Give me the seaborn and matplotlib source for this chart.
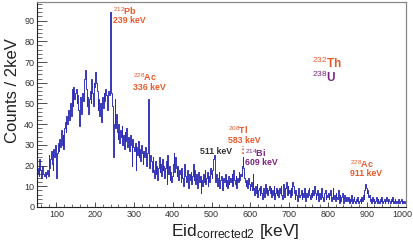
import numpy as np
import pandas as pd
import matplotlib
matplotlib.use("Agg")
import matplotlib.pyplot as plt
import matplotlib.transforms as mtransforms
import seaborn as sns

# counts per 2 keV bin (50 - 1000 keV)
counts_050 = [16, 19, 15, 23, 18, 14, 17, 20, 16, 15, 17, 14, 16, 18, 15, 25, 19, 23, 27, 21, 18, 28, 24, 30, 22]
counts_100 = [14, 26, 31, 27, 33, 29, 37, 30, 35, 28, 38, 41, 36, 44, 40, 47, 42, 45, 50, 44, 57, 49, 58, 52, 55]
counts_150 = [57, 50, 54, 47, 39, 48, 53, 45, 55, 51, 58, 62, 66, 57, 49, 53, 45, 52, 56, 50, 62, 55, 49, 60, 58]
counts_200 = [65, 60, 56, 47, 52, 44, 50, 46, 41, 53, 48, 55, 51, 57, 54, 47, 50, 56, 54, 94, 92, 55, 49, 24, 40]
counts_250 = [52, 38, 45, 36, 33, 40, 31, 37, 34, 39, 30, 35, 28, 36, 32, 38, 29, 34, 31, 27, 35, 30, 20, 33, 29]
counts_300 = [27, 31, 18, 29, 25, 32, 24, 28, 22, 30, 26, 21, 27, 24, 29, 23, 20, 26, 52, 28, 19, 25, 22, 17, 24]
counts_350 = [18, 14, 22, 16, 20, 13, 19, 24, 17, 21, 15, 23, 18, 20, 14, 19, 22, 11, 25, 16, 20, 13, 17, 12, 15]
counts_400 = [21, 26, 17, 24, 19, 15, 20, 13, 18, 16, 12, 19, 14, 10, 17, 21, 15, 12, 18, 14, 9, 16, 13, 17, 11]
counts_450 = [15, 21, 13, 18, 11, 16, 9, 14, 17, 12, 15, 7, 13, 10, 16, 12, 18, 11, 14, 17, 10, 15, 12, 19, 16]
counts_500 = [14, 18, 23, 25, 20, 12, 16, 10, 14, 17, 9, 13, 15, 11, 8, 14, 12, 16, 10, 13, 9, 15, 11, 12, 14]
counts_550 = [12, 16, 10, 18, 13, 11, 15, 9, 14, 12, 17, 13, 16, 15, 20, 24, 19, 14, 12, 10, 13, 9, 14, 11, 8]
counts_600 = [10, 12, 8, 16, 9, 6, 10, 7, 11, 5, 8, 9, 6, 10, 7, 4, 9, 8, 5, 11, 7, 9, 6, 8, 10]
counts_650 = [7, 9, 5, 8, 6, 10, 4, 7, 9, 6, 8, 5, 9, 7, 10, 6, 4, 11, 8, 5, 9, 12, 6, 10, 7]
counts_700 = [8, 5, 9, 6, 12, 10, 7, 4, 8, 6, 3, 7, 9, 5, 6, 8, 4, 7, 5, 9, 6, 3, 7, 5, 8]
counts_750 = [9, 6, 4, 7, 5, 8, 6, 10, 7, 4, 6, 8, 3, 5, 7, 4, 9, 6, 5, 3, 7, 8, 4, 6, 5]
counts_800 = [7, 4, 6, 8, 3, 5, 9, 4, 6, 3, 7, 5, 4, 8, 2, 6, 3, 5, 7, 4, 2, 6, 3, 5, 4]
counts_850 = [3, 5, 2, 4, 3, 6, 2, 4, 5, 3, 2, 4, 3, 5, 2, 3, 4, 2, 5, 3, 6, 4, 8, 11, 9]
counts_900 = [7, 8, 5, 6, 3, 4, 2, 5, 3, 4, 2, 3, 5, 2, 4, 3, 2, 4, 3, 5, 2, 3, 4, 2, 3]
counts_950 = [5, 3, 2, 4, 3, 2, 4, 3, 5, 2, 3, 4, 2, 3, 2, 4, 3, 2, 3, 4, 2, 3, 2, 3, 2]

counts = (counts_050 + counts_100 + counts_150 + counts_200 + counts_250 + counts_300
          + counts_350 + counts_400 + counts_450 + counts_500 + counts_550 + counts_600
          + counts_650 + counts_700 + counts_750 + counts_800 + counts_850 + counts_900
          + counts_950)

e_min, e_max, bin_w = 50, 1000, 2
centers = np.arange(e_min, e_max, bin_w) + bin_w / 2
df = pd.DataFrame({"energy": centers, "counts": counts})

# peak labels: (isotope mass, element, energy text, x, y of label, colour)
ORANGE = "#e8582a"
PURPLE = "#7b2381"
peak_labels = [
    ("212", "Pb", "239 keV", 247, 94.5, 90.2, ORANGE),
    ("228", "Ac", "336 keV", 298, 62.7, 57.6, ORANGE),
    ("208", "Tl", "583 keV", 543, 37.0, 32.2, ORANGE),
    ("214", "Bi", "609 keV", 587, 26.2, 21.6, PURPLE),
    ("228", "Ac", "911 keV", 857, 20.6, 16.0, ORANGE),
]

sns.set_style("ticks")
plt.rcParams["font.family"] = ["Liberation Sans", "DejaVu Sans"]
plt.rcParams["mathtext.fontset"] = "custom"
plt.rcParams["mathtext.rm"] = "Liberation Sans"
plt.rcParams["mathtext.it"] = "Liberation Sans"
plt.rcParams["mathtext.bf"] = "Liberation Sans:bold"

fig = plt.figure(figsize=(4.13, 2.41), dpi=100)
ax = fig.add_axes([37 / 413, 34 / 241, 368.5 / 413, 205 / 241])

sns.histplot(data=df, x="energy", weights="counts", binwidth=bin_w,
             binrange=(e_min, e_max), element="step", fill=False,
             color="#2a2ab4", linewidth=0.65, ax=ax)

ax.set_xlim(e_min, e_max)
ax.set_ylim(0, 99)
ax.set_xticks(np.arange(100, 1001, 100))
ax.set_xticks(np.arange(60, 1001, 20), minor=True)
ax.set_yticks(np.arange(0, 91, 10))
ax.set_yticks(np.arange(0, 99, 2), minor=True)
ax.tick_params(axis="both", which="both", direction="in", colors="#333333",
               labelsize=6.5, top=False, right=False)
ax.tick_params(axis="y", which="major", length=7, width=0.6, pad=2)
ax.tick_params(axis="y", which="minor", length=3.5, width=0.5)
ax.tick_params(axis="x", which="major", length=3.8, width=0.6, pad=2)
ax.tick_params(axis="x", which="minor", length=2, width=0.5)
for side in ["left", "bottom"]:
    ax.spines[side].set_color("#222222")
    ax.spines[side].set_linewidth(0.8)
for side in ["top", "right"]:
    ax.spines[side].set_visible(True)
    ax.spines[side].set_color("#888888")
    ax.spines[side].set_linewidth(0.9)

# nudge the last x tick label so it stays inside the picture
last = ax.get_xticklabels()[-1]
last.set_transform(last.get_transform()
                   + mtransforms.ScaledTranslation(-3 / 100, 0, fig.dpi_scale_trans))

ax.set_ylabel("Counts / 2keV", fontsize=12, color="#222222")
ax.yaxis.set_label_coords(-0.045, 0.57)
ax.set_xlabel(r"Eid$_{\rm corrected2}$ [keV]", fontsize=12.5, color="#222222")
ax.xaxis.set_label_coords(0.537, -0.075)

for mass, elem, etext, x, y1, y2, col in peak_labels:
    ax.text(x, y1, r"$^{%s}$%s" % (mass, elem), color=col, fontsize=6.5,
            fontweight="bold", ha="left", va="center")
    ax.text(x, y2, etext, color=col, fontsize=6.3, fontweight="bold",
            ha="left", va="center")

ax.text(471, 26.9, "511 keV", color="#333333", fontsize=6.3, fontweight="bold",
        ha="left", va="center")
ax.vlines(582, 25.5, 29.5, colors=ORANGE, linestyles=(0, (1.2, 1.2)), linewidth=1.1)

ax.text(760, 69.2, r"$^{232}$Th", color=ORANGE, fontsize=8.5, fontweight="bold",
        ha="left", va="center")
ax.text(760, 62.4, r"$^{238}$U", color=PURPLE, fontsize=8.5, fontweight="bold",
        ha="left", va="center")

fig.savefig("out.png", dpi=100)
